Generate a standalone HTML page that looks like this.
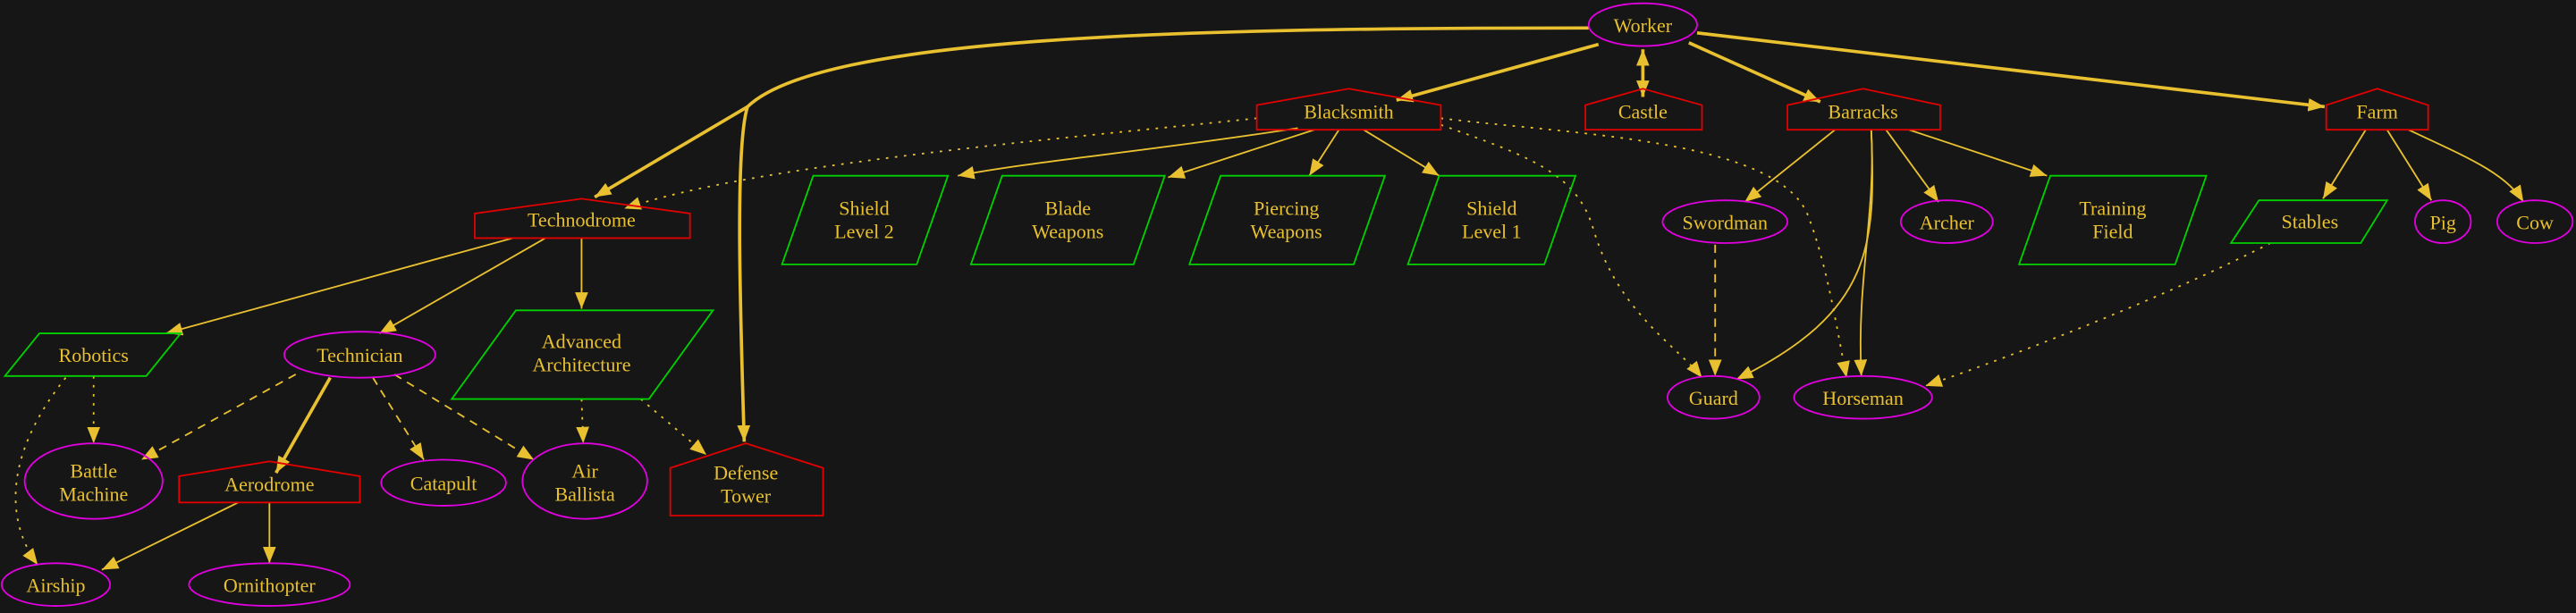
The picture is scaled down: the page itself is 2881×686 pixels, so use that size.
<!DOCTYPE html>
<html><head><meta charset="utf-8"><style>
html,body{margin:0;padding:0;background:#161616;}
svg{display:block}
text{font-family:"Liberation Serif",serif;font-size:12px;fill:#e8c030;text-anchor:middle}
.e{fill:none;stroke:#e000e0;stroke-width:1}
.h{fill:none;stroke:#e00000;stroke-width:1}
.p{fill:none;stroke:#00d000;stroke-width:1}
.l{fill:none;stroke:#e8c030;stroke-width:1}
.t{stroke-width:2}
.d{stroke-dasharray:5,4}
.o{stroke-dasharray:1.5,4}
</style></head><body>
<svg width="2881" height="686" viewBox="0 0 1568 373.3" xmlns="http://www.w3.org/2000/svg">
<defs>
<marker id="a" markerUnits="userSpaceOnUse" markerWidth="12" markerHeight="10" refX="10" refY="4" orient="auto"><path d="M0,0 L10,4 L0,8 Z" fill="#e8c030"/></marker>
<marker id="b" markerUnits="userSpaceOnUse" markerWidth="12" markerHeight="10" refX="0" refY="4" orient="auto"><path d="M10,0 L0,4 L10,8 Z" fill="#e8c030"/></marker>
</defs>
<rect width="1568" height="373.3" fill="#161616"/>

<path class="l t" d="M967,17 C720,17 500,22 455,65"/>
<path class="l t" d="M455,65 L362,120" marker-end="url(#a)"/>
<path class="l t" d="M455,65 C447,90 451,200 453,269" marker-end="url(#a)"/>
<path class="l t" d="M973,27 L850,61" marker-end="url(#a)"/>
<path class="l t" d="M1000,30 L1000,59" marker-start="url(#b)" marker-end="url(#a)"/>
<path class="l t" d="M1028,26 L1108,62" marker-end="url(#a)"/>
<path class="l t" d="M1033,20 L1415,65" marker-end="url(#a)"/>
<path class="l o" d="M765,72 C640,85 460,100 380,127" marker-end="url(#a)"/>
<path class="l" d="M790,78 C700,92 630,98 583,107" marker-end="url(#a)"/>
<path class="l" d="M800,79 L711,108" marker-end="url(#a)"/>
<path class="l" d="M815,79 L797,107" marker-end="url(#a)"/>
<path class="l" d="M830,79 L876,107" marker-end="url(#a)"/>
<path class="l o" d="M877,76 C930,95 960,105 970,140 C985,190 1020,210 1036,230" marker-end="url(#a)"/>
<path class="l o" d="M877,72 C960,82 1080,85 1100,130 C1112,160 1118,200 1124,230" marker-end="url(#a)"/>
<path class="l" d="M1117,79 L1062,123" marker-end="url(#a)"/>
<path class="l" d="M1139,79 C1142,150 1140,190 1057,231" marker-end="url(#a)"/>
<path class="l" d="M1139,79 C1142,130 1130,170 1133,229" marker-end="url(#a)"/>
<path class="l" d="M1148,79 L1180,123" marker-end="url(#a)"/>
<path class="l" d="M1162,79 L1246,107" marker-end="url(#a)"/>
<path class="l d" d="M1044,149 L1044,229" marker-end="url(#a)"/>
<path class="l" d="M1440,79 L1414,121" marker-end="url(#a)"/>
<path class="l" d="M1453,79 L1480,122" marker-end="url(#a)"/>
<path class="l" d="M1466,79 C1500,95 1525,105 1536,123" marker-end="url(#a)"/>
<path class="l o" d="M1382,148 C1320,180 1230,215 1172,235" marker-end="url(#a)"/>
<path class="l" d="M312,145 L101,203" marker-end="url(#a)"/>
<path class="l" d="M332,145 L231,203" marker-end="url(#a)"/>
<path class="l" d="M354,145 L354,188" marker-end="url(#a)"/>
<path class="l o" d="M57,229 L57,270" marker-end="url(#a)"/>
<path class="l o" d="M40,230 C0,280 5,320 23,344" marker-end="url(#a)"/>
<path class="l d" d="M180,228 L86,280" marker-end="url(#a)"/>
<path class="l t" d="M201,230 L168,288" marker-end="url(#a)"/>
<path class="l d" d="M227,230 L258,280" marker-end="url(#a)"/>
<path class="l d" d="M240,228 L325,280" marker-end="url(#a)"/>
<path class="l o" d="M354,243 L355,270" marker-end="url(#a)"/>
<path class="l o" d="M390,243 L430,277" marker-end="url(#a)"/>
<path class="l" d="M145,306 L62,347" marker-end="url(#a)"/>
<path class="l" d="M164,306 L164,343" marker-end="url(#a)"/>

<ellipse class="e" cx="1000" cy="15" rx="33" ry="13"/><text x="1000" y="19.5">Worker</text>

<polygon class="h" points="765,79 765,64 821,54 877,64 877,79"/><text x="821" y="72">Blacksmith</text>
<polygon class="h" points="965,79 965,64 1000,54 1036,64 1036,79"/><text x="1000" y="72">Castle</text>
<polygon class="h" points="1088,79 1088,64 1134,54 1181,64 1181,79"/><text x="1134" y="72">Barracks</text>
<polygon class="h" points="1416,79 1416,64 1447,54 1478,64 1478,79"/><text x="1447" y="72">Farm</text>
<polygon class="h" points="289,145 289,130 354,121 420,130 420,145"/><text x="354" y="138">Technodrome</text>

<polygon class="p" points="495,107 577,107 558,161 476,161"/><text x="526" y="131">Shield</text><text x="526" y="145">Level 2</text>
<polygon class="p" points="610,107 709,107 690,161 591,161"/><text x="650" y="131">Blade</text><text x="650" y="145">Weapons</text>
<polygon class="p" points="743,107 843,107 824,161 724,161"/><text x="783" y="131">Piercing</text><text x="783" y="145">Weapons</text>
<polygon class="p" points="876,107 959,107 940,161 857,161"/><text x="908" y="131">Shield</text><text x="908" y="145">Level 1</text>
<polygon class="p" points="1248,107 1343,107 1324,161 1229,161"/><text x="1286" y="131">Training</text><text x="1286" y="145">Field</text>
<polygon class="p" points="1375,122 1453,122 1437,148 1358,148"/><text x="1406" y="139">Stables</text>

<ellipse class="e" cx="1050" cy="135" rx="38" ry="13"/><text x="1050" y="139.5">Swordman</text>
<ellipse class="e" cx="1185" cy="135" rx="28" ry="13"/><text x="1185" y="139.5">Archer</text>
<ellipse class="e" cx="1487" cy="135" rx="17" ry="13"/><text x="1487" y="139.5">Pig</text>
<ellipse class="e" cx="1543" cy="135" rx="23" ry="13"/><text x="1543" y="139.5">Cow</text>
<ellipse class="e" cx="1043" cy="242" rx="28" ry="13"/><text x="1043" y="246.5">Guard</text>
<ellipse class="e" cx="1134" cy="242" rx="42" ry="13"/><text x="1134" y="246.5">Horseman</text>

<polygon class="p" points="24,203 110,203 89,229 3,229"/><text x="57" y="220.5">Robotics</text>
<ellipse class="e" cx="219" cy="216" rx="46" ry="14"/><text x="219" y="220.5">Technician</text>
<polygon class="p" points="314,189 434,189 395,243 275,243"/><text x="354" y="212">Advanced</text><text x="354" y="226">Architecture</text>

<ellipse class="e" cx="57" cy="293" rx="42" ry="23"/><text x="57" y="291">Battle</text><text x="57" y="305">Machine</text>
<polygon class="h" points="109,306 109,290 164,281 219,290 219,306"/><text x="164" y="299">Aerodrome</text>
<ellipse class="e" cx="270" cy="294" rx="38" ry="14"/><text x="270" y="298.5">Catapult</text>
<ellipse class="e" cx="356" cy="293" rx="38" ry="23"/><text x="356" y="291">Air</text><text x="356" y="305">Ballista</text>
<polygon class="h" points="408,314 408,285 454,270 501,285 501,314"/><text x="454" y="292">Defense</text><text x="454" y="306">Tower</text>

<ellipse class="e" cx="34" cy="356" rx="33" ry="13"/><text x="34" y="360.5">Airship</text>
<ellipse class="e" cx="164" cy="356" rx="49" ry="13"/><text x="164" y="360.5">Ornithopter</text>
</svg>
</body></html>
